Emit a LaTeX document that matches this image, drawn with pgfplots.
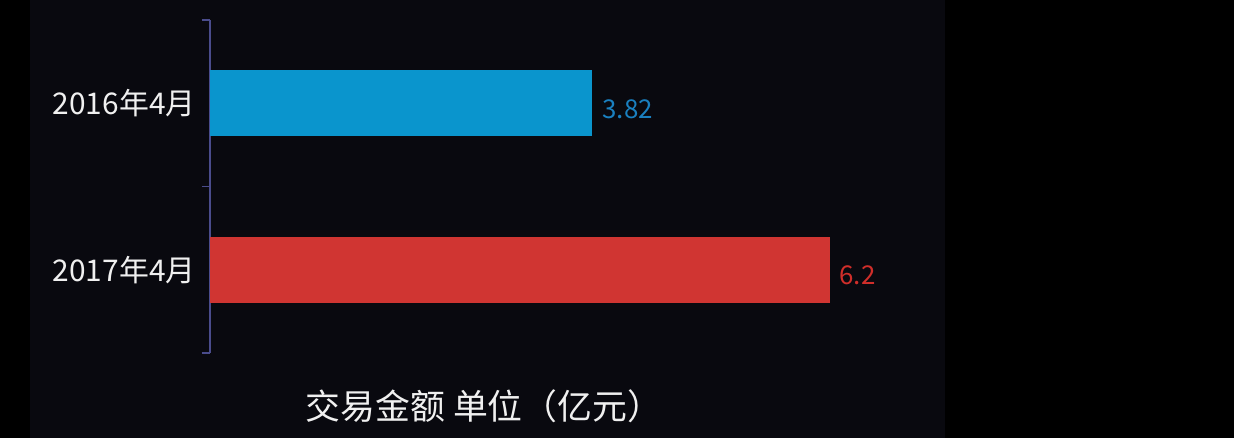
\documentclass[border=0pt]{standalone}
\usepackage{fontspec}
\setmainfont{Noto Sans CJK SC}
\usepackage{pgfplots}
\pgfplotsset{compat=1.18}
\definecolor{bgnavy}{HTML}{09090F}
\definecolor{axiscol}{HTML}{4A4C8C}
\definecolor{barblue}{HTML}{0A95CD}
\definecolor{barred}{HTML}{D03532}
\definecolor{lblblue}{HTML}{1A80C0}
\definecolor{lblred}{HTML}{D02E2A}
\definecolor{labelcol}{HTML}{F0F0F0}
\begin{document}
\begin{tikzpicture}
\fill[black] (0,0) rectangle (1234bp,438bp);
\fill[bgnavy] (30bp,0) rectangle (945bp,438bp);
\begin{axis}[
  at={(210bp,85bp)}, anchor=south west,
  scale only axis, width=700bp, height=333bp,
  xmin=0, xmax=7, ymin=-0.5, ymax=1.5,
  axis x line=none,
  axis y line*=left,
  y axis line style={color=axiscol, line width=1.2bp},
  ytick={0,1}, yticklabels={2017年4月,2016年4月},
  major tick length=0pt,
  minor ytick={-0.5,0.5,1.5},
  minor tick length=8bp,
  tick align=outside,
  minor tick style={color=axiscol, line width=1.2bp},
  yticklabel style={font=\fontsize{30}{32}\selectfont, text=labelcol, xshift=-11bp},
  /pgf/number format/assume math mode=true,
  xbar, bar width=66bp,
  clip=false,
]
\addplot[fill=barblue, draw=none, bar shift=0pt, nodes near coords,
  nodes near coords style={text=lblblue, font=\fontsize{26}{28}\selectfont, yshift=-6bp, xshift=7bp}]
  coordinates {(3.82,1)};
\addplot[fill=barred, draw=none, bar shift=0pt, nodes near coords,
  nodes near coords style={text=lblred, font=\fontsize{26}{28}\selectfont, yshift=-6bp, xshift=6bp}]
  coordinates {(6.2,0)};
\end{axis}
\node[text=labelcol, font=\fontsize{35}{38}\selectfont] at (484bp,32bp) {交易金额 单位（亿元）};
\end{tikzpicture}
\end{document}
